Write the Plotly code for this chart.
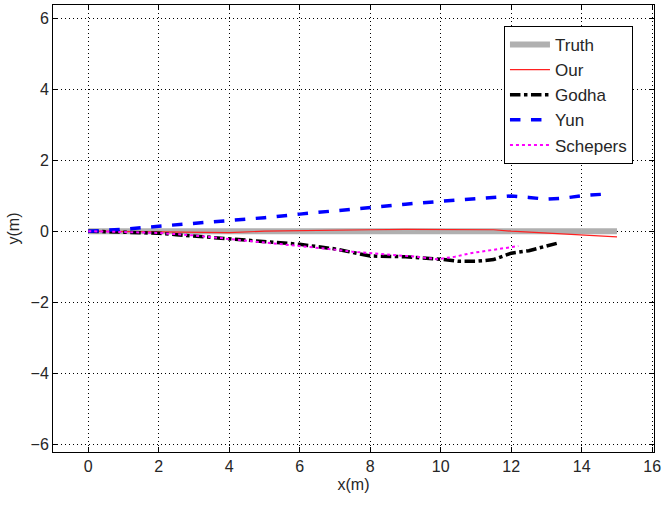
import plotly.graph_objects as go

truth_x = [0, 15]
truth_y = [0, 0]

our_x = [0, 1, 2, 3, 4, 5, 6, 7, 8, 9, 10, 11, 11.5, 12, 12.5, 13, 13.5, 14, 14.5, 15]
our_y = [0, -0.01, -0.03, -0.05, -0.04, 0.0, 0.02, 0.03, 0.04, 0.05, 0.05, 0.05, 0.04, 0.0, -0.03, -0.05, -0.07, -0.1, -0.13, -0.16]

godha_x = [0, 1, 2, 2.5, 3, 3.5, 4, 5, 6, 7, 8, 9, 10, 10.5, 11, 11.5, 12, 12.5, 13, 13.3]
godha_y = [0, -0.02, -0.06, -0.1, -0.14, -0.17, -0.2, -0.3, -0.37, -0.5, -0.7, -0.72, -0.79, -0.85, -0.85, -0.8, -0.62, -0.55, -0.42, -0.34]

yun_x = [0, 1, 2, 3, 4, 5, 6, 7, 8, 9, 10, 11, 12, 12.5, 13, 13.5, 14, 14.6]
yun_y = [0, 0.05, 0.14, 0.22, 0.28, 0.38, 0.48, 0.58, 0.68, 0.76, 0.84, 0.92, 0.99, 0.95, 0.9, 0.93, 1.0, 1.04]

sch_x = [0, 1, 2, 3, 4, 5, 6, 7, 7.5, 8.5, 9.3, 9.9, 10.4, 10.85, 11.3, 11.8, 12.2]
sch_y = [0, -0.02, -0.05, -0.12, -0.22, -0.3, -0.4, -0.52, -0.58, -0.65, -0.72, -0.79, -0.72, -0.62, -0.55, -0.48, -0.42]

fig = go.Figure()
fig.add_trace(go.Scatter(x=truth_x, y=truth_y, mode="lines", name="Truth",
                         line=dict(color="#b0b0b0", width=6)))
fig.add_trace(go.Scatter(x=our_x, y=our_y, mode="lines", name="Our",
                         line=dict(color="#ff2020", width=1.2)))
fig.add_trace(go.Scatter(x=godha_x, y=godha_y, mode="lines", name="Godha",
                         line=dict(color="black", width=3.5, dash="dashdot")))
fig.add_trace(go.Scatter(x=yun_x, y=yun_y, mode="lines", name="Yun",
                         line=dict(color="#0000ff", width=3.5, dash="dash")))
fig.add_trace(go.Scatter(x=sch_x, y=sch_y, mode="lines", name="Schepers",
                         line=dict(color="#ff00ff", width=2, dash="dot")))

axis_common = dict(showline=True, linecolor="black", linewidth=1, mirror="ticks",
                   ticks="inside", ticklen=5, tickcolor="black",
                   showgrid=True, gridcolor="black", gridwidth=1, griddash="1px,3px",
                   zeroline=False, tickfont=dict(size=16, color="#262626"),
                   title_font=dict(size=16, color="#262626"))

fig.update_xaxes(range=[-1, 16.05], tickvals=list(range(0, 17, 2)), title_text="x(m)",
                 title_standoff=4, **axis_common)
fig.update_yaxes(range=[-6.22, 6.37], tickvals=list(range(-6, 7, 2)), title_text="y(m)",
                 title_standoff=6, **axis_common)

fig.update_layout(
    width=665, height=509,
    margin=dict(l=53, r=8, t=4, b=57),
    plot_bgcolor="white", paper_bgcolor="white",
    font=dict(family="Arial, Liberation Sans, sans-serif", size=16, color="#262626"),
    legend=dict(x=0.965, y=0.953, xanchor="right", yanchor="top",
                bgcolor="white", bordercolor="black", borderwidth=1,
                font=dict(size=17, color="#262626"), tracegroupgap=0,
                itemwidth=40),
)

fig.write_html("out.html")
